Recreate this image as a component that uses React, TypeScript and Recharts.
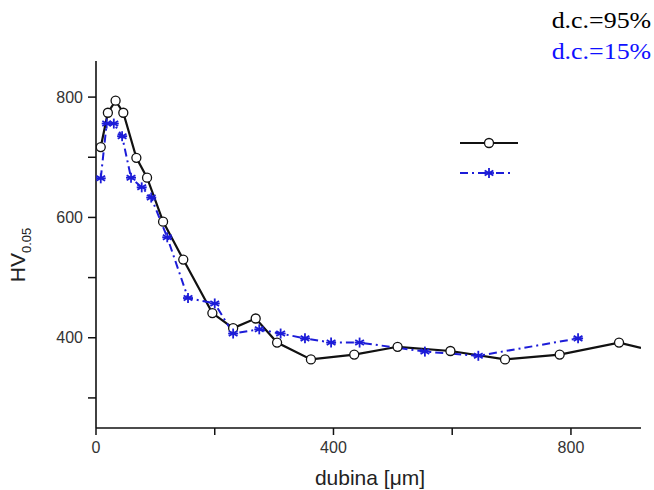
import React from 'react';
import { LineChart, Line, XAxis, YAxis, Legend } from 'recharts';

// depth [um] vs microhardness HV0.05
const depth95 = [8, 20, 33, 46, 68, 86, 113, 147, 196, 231, 269, 305, 362, 435, 508, 597, 689, 781, 881, 918];
const hv95 = [717, 774, 794, 774, 699, 666, 593, 530, 441, 416, 432, 392, 364, 372, 385, 378, 364, 372, 392, 383];

const depth15 = [8, 18, 30, 44, 59, 77, 93, 120, 155, 200, 231, 275, 311, 352, 396, 444, 554, 644, 812];
const hv15 = [665, 756, 756, 735, 666, 650, 633, 567, 466, 457, 407, 414, 407, 399, 392, 392, 377, 370, 399];

const xTicks = [0, 200, 400, 600, 800];
const xLabels = [0, 400, 800];
const yTicks = [300, 400, 500, 600, 700, 800];
const yLabels = [400, 600, 800];

const data95 = depth95.map((d, i) => ({ depth: d, hv: hv95[i] }));
const data15 = depth15.map((d, i) => ({ depth: d, hv: hv15[i] }));

const BLUE = '#1c1cd8';
const tickFont = { fontSize: 16, fill: '#333', fontFamily: 'Liberation Sans, Arial, sans-serif' };

function CircleDot(props: any) {
  const { cx, cy, index } = props;
  if (index === depth95.length - 1) return <g key={`c${index}`} />;
  return <circle key={`c${index}`} cx={cx} cy={cy} r={4.5} fill='#fff' stroke='#111' strokeWidth={1.3} />;
}

function StarDot(props: any) {
  const { cx, cy, index } = props;
  const r = 5;
  const d = r * 0.87;
  return (
    <g key={`s${index}`} stroke={BLUE} strokeWidth={1.8}>
      <line x1={cx} y1={cy - r} x2={cx} y2={cy + r} />
      <line x1={cx - d} y1={cy - r / 2} x2={cx + d} y2={cy + r / 2} />
      <line x1={cx - d} y1={cy + r / 2} x2={cx + d} y2={cy - r / 2} />
      <line x1={cx - r} y1={cy} x2={cx + r} y2={cy} />
    </g>
  );
}

function LegendBox() {
  return (
    <svg width={64} height={44}>
      <line x1={2} y1={8} x2={60} y2={8} stroke='#111' strokeWidth={2.2} />
      <circle cx={31} cy={8} r={4.5} fill='#fff' stroke='#111' strokeWidth={1.3} />
      <line x1={2} y1={38} x2={55} y2={38} stroke={BLUE} strokeWidth={2} strokeDasharray='8 4 2 4' />
      <StarDot cx={31} cy={38} index={0} />
    </svg>
  );
}

export default function App() {
  return (
    <div style={{ position: 'absolute', left: 0, top: 0, width: 654, height: 490, background: '#fff' }}>
      <LineChart width={654} height={490} margin={{ top: 61, right: 13, bottom: 32, left: 36 }}>
        <XAxis
          type='number'
          dataKey='depth'
          domain={[0, 918]}
          ticks={xTicks}
          tickFormatter={(v: number) => (xLabels.includes(v) ? String(v) : '')}
          allowDataOverflow
          height={30}
          tickSize={7}
          tickMargin={7}
          axisLine={{ stroke: '#111', strokeWidth: 1.6 }}
          tickLine={{ stroke: '#111', strokeWidth: 1.5 }}
          tick={tickFont}
        />
        <YAxis
          type='number'
          dataKey='hv'
          domain={[250, 860]}
          ticks={yTicks}
          tickFormatter={(v: number) => (yLabels.includes(v) ? String(v) : '')}
          allowDataOverflow
          width={60}
          tickSize={8}
          tickMargin={5}
          axisLine={{ stroke: '#111', strokeWidth: 1.6 }}
          tickLine={{ stroke: '#111', strokeWidth: 1.5 }}
          tick={tickFont}
        />
        <Legend
          layout='vertical'
          align='center'
          verticalAlign='middle'
          wrapperStyle={{ position: 'absolute', left: 458, top: 135, width: 64, height: 44 }}
          content={() => <LegendBox />}
        />
        <Line
          data={data95}
          dataKey='hv'
          name='d.c.=95%'
          type='linear'
          stroke='#111'
          strokeWidth={2.2}
          dot={CircleDot}
          isAnimationActive={false}
        />
        <Line
          data={data15}
          dataKey='hv'
          name='d.c.=15%'
          type='linear'
          stroke={BLUE}
          strokeWidth={2}
          strokeDasharray='8 4 2 4'
          dot={StarDot}
          isAnimationActive={false}
        />
      </LineChart>
      <div
        style={{
          position: 'absolute', right: 3, top: 5, fontFamily: 'Liberation Serif, Times New Roman, serif',
          fontSize: 24, lineHeight: '31px', textAlign: 'right', transform: 'scaleX(1.08)', transformOrigin: 'right',
        }}
      >
        <div style={{ color: '#000' }}>d.c.=95%</div>
        <div style={{ color: '#1010ff' }}>d.c.=15%</div>
      </div>
      <div
        style={{
          position: 'absolute', left: 20, top: 255, transform: 'translate(-50%, -50%) rotate(-90deg)',
          fontFamily: 'Liberation Sans, Arial, sans-serif', fontSize: 21, color: '#222', whiteSpace: 'nowrap',
        }}
      >
        HV<sub style={{ fontSize: 13 }}>0.05</sub>
      </div>
      <div
        style={{
          position: 'absolute', left: 370, top: 478, transform: 'translate(-50%, -50%)',
          fontFamily: 'Liberation Sans, Arial, sans-serif', fontSize: 21, color: '#222', whiteSpace: 'nowrap',
        }}
      >
        dubina [μm]
      </div>
    </div>
  );
}
